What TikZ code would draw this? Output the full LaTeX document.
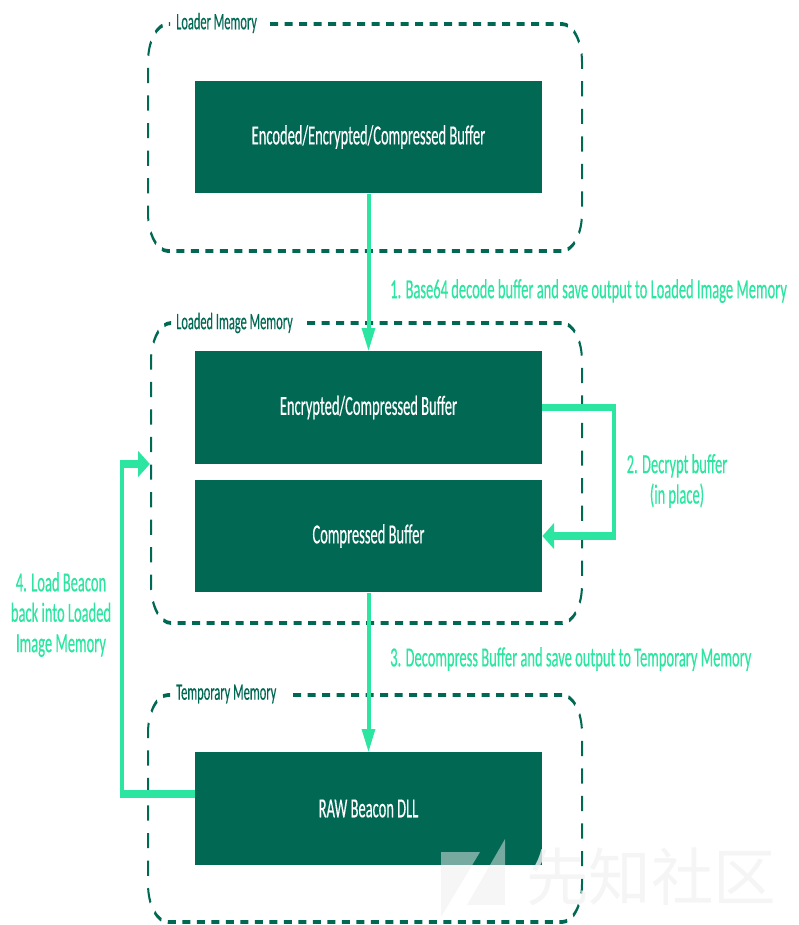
\documentclass[tikz,border=0pt]{standalone}
\usepackage{fontspec}
\setmainfont{Carlito}[FakeBold=0.5]
\newfontfamily\cjkmark{Noto Sans CJK SC}
\usetikzlibrary{arrows.meta}
\definecolor{boxgreen}{HTML}{006853}
\definecolor{flowgreen}{HTML}{2CE5A0}
\tikzset{
  memblock/.style={fill=boxgreen,text=white,minimum width=347pt,minimum height=59.2pt,inner sep=0pt,font=\fontsize{14.5}{16}\selectfont},
  frameline/.style={draw=boxgreen,line width=2pt,dash pattern=on 8pt off 6.5pt,rounded corners=20pt},
  framelabel/.style={anchor=west,inner sep=0pt,text=boxgreen,font=\fontsize{12.4}{14}\selectfont},
  flowline/.style={draw=flowgreen,line width=4pt,-{Triangle[length=12pt,width=13pt]}},
  flowlabel/.style={inner sep=0pt,text=flowgreen,align=center,font=\fontsize{14.5}{16}\selectfont},
}
\begin{document}
\begin{tikzpicture}[x=1pt,y=-1pt]
\useasboundingbox (0,0) rectangle (798,925);
\begin{scope}[transform canvas={yscale=1.9},x=1pt,y=-0.52632pt]
  % memory frames
  \draw[frameline] (270,24) -- (582,24) -- (582,251) -- (148,251) -- (148,24) -- (170,24);
  \draw[frameline] (307,323) -- (582,323) -- (582,623) -- (151,623) -- (151,323) -- (170,323);
  \draw[frameline] (293,695) -- (582,695) -- (582,922) -- (148,922) -- (148,695) -- (170,695);
  \node[framelabel] (loaderlabel) at (176,23) {Loader Memory};
  \node[framelabel] (loadedlabel) at (176,323) {Loaded Image Memory};
  \node[framelabel] (templabel) at (176,694) {Temporary Memory};
  % buffers
  \node[memblock] (enc) at (368.5,137) {\raisebox{-1pt}{Encoded/Encrypted/Compressed Buffer}};
  \node[memblock] (encr) at (368.5,407.5) {\raisebox{-1pt}{Encrypted/Compressed Buffer}};
  \node[memblock] (comp) at (368.5,536) {\raisebox{-1pt}{Compressed Buffer}};
  \node[memblock] (raw) at (368.5,808.5) {\raisebox{-1pt}{RAW Beacon DLL}};
  \coordinate (loadedwest) at (150,464);
  \coordinate (rightturn) at (614,407.5);
  \coordinate (leftturn) at (122,464);
  % flows
  \draw[flowline] (enc) -- (encr);
  \draw[flowline] (encr.east) -- (rightturn) |- (comp.east);
  \draw[flowline] (comp) -- (raw);
  \draw[flowline] (raw.west |- 0,794) -| (leftturn) -- (loadedwest);
  % flow labels
  \node[flowlabel,anchor=west] (s1) at (390,291) {1. Base64 decode buffer and save output to Loaded Image Memory};
  \node[flowlabel] (s2) at (677,481) {2. Decrypt buffer\\(in place)};
  \node[flowlabel,anchor=west] (s3) at (390,659) {3. Decompress Buffer and save output to Temporary Memory};
  \node[flowlabel] (s4) at (61,614.5) {4. Load Beacon\\back into Loaded\\Image Memory};
\end{scope}
% watermark
\fill[fill=black!7,opacity=.5] (441,852) -- (480,852) -- (441,917) -- cycle;
\fill[fill=black!7,opacity=.5] (505,839) -- (505,905) -- (467,905) -- cycle;
\node[inner sep=0pt,text=black!5,font=\fontsize{62.5}{62}\cjkmark,opacity=.8] (mark) at (651,877) {先知社区};
\end{tikzpicture}
\end{document}
